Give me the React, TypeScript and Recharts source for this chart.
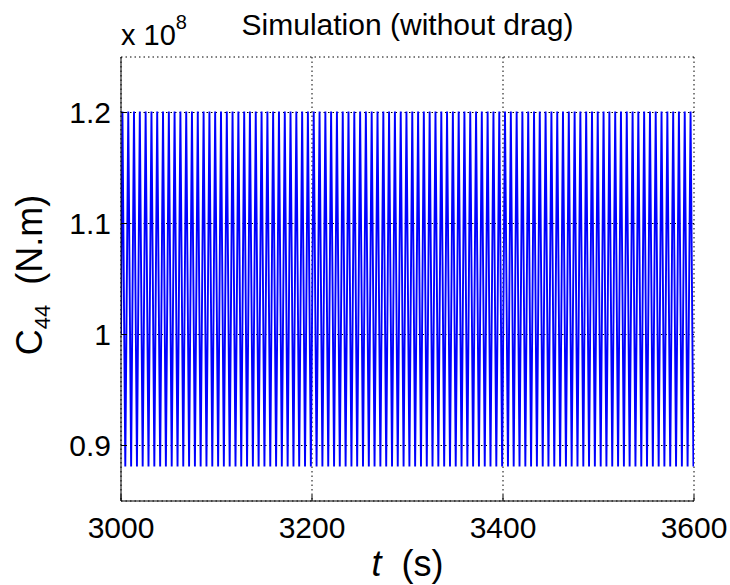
import { CartesianGrid, Line, LineChart, XAxis, YAxis } from 'recharts';

// ----------------------------------------------------------------------
// sample times (s): turning points of the C44 oscillation
const time = [
  3000,
  3001.5, 3004.5, 3007.6, 3010.6, 3013.6, 3016.7, 3019.7, 3022.7, 3025.8, 3028.8, 3031.9, 3034.9, 3037.9, 3041.0, 3044.0, 3047.0, 3050.1, 3053.1, 3056.1, 3059.2,
  3062.2, 3065.2, 3068.3, 3071.3, 3074.3, 3077.4, 3080.4, 3083.4, 3086.5, 3089.5, 3092.6, 3095.6, 3098.6, 3101.7, 3104.7, 3107.7, 3110.8, 3113.8, 3116.8, 3119.9,
  3122.9, 3125.9, 3129.0, 3132.0, 3135.0, 3138.1, 3141.1, 3144.1, 3147.2, 3150.2, 3153.3, 3156.3, 3159.3, 3162.4, 3165.4, 3168.4, 3171.5, 3174.5, 3177.5, 3180.6,
  3183.6, 3186.6, 3189.7, 3192.7, 3195.7, 3198.8, 3201.8, 3204.8, 3207.9, 3210.9, 3214.0, 3217.0, 3220.0, 3223.1, 3226.1, 3229.1, 3232.2, 3235.2, 3238.2, 3241.3,
  3244.3, 3247.3, 3250.4, 3253.4, 3256.4, 3259.5, 3262.5, 3265.5, 3268.6, 3271.6, 3274.7, 3277.7, 3280.7, 3283.8, 3286.8, 3289.8, 3292.9, 3295.9, 3298.9, 3302.0,
  3305.0, 3308.0, 3311.1, 3314.1, 3317.1, 3320.2, 3323.2, 3326.2, 3329.3, 3332.3, 3335.4, 3338.4, 3341.4, 3344.5, 3347.5, 3350.5, 3353.6, 3356.6, 3359.6, 3362.7,
  3365.7, 3368.7, 3371.8, 3374.8, 3377.8, 3380.9, 3383.9, 3386.9, 3390.0, 3393.0, 3396.1, 3399.1, 3402.1, 3405.2, 3408.2, 3411.2, 3414.3, 3417.3, 3420.3, 3423.4,
  3426.4, 3429.4, 3432.5, 3435.5, 3438.5, 3441.6, 3444.6, 3447.6, 3450.7, 3453.7, 3456.8, 3459.8, 3462.8, 3465.9, 3468.9, 3471.9, 3475.0, 3478.0, 3481.0, 3484.1,
  3487.1, 3490.1, 3493.2, 3496.2, 3499.2, 3502.3, 3505.3, 3508.3, 3511.4, 3514.4, 3517.5, 3520.5, 3523.5, 3526.6, 3529.6, 3532.6, 3535.7, 3538.7, 3541.7, 3544.8,
  3547.8, 3550.8, 3553.9, 3556.9, 3559.9, 3563.0, 3566.0, 3569.0, 3572.1, 3575.1, 3578.2, 3581.2, 3584.2, 3587.3, 3590.3, 3593.3, 3596.4, 3599.4,
  3600,
];

// C44 (x 1e8 N.m) at those times
const c44 = [
  1.0,
  1.201, 0.881, 1.201, 0.881, 1.201, 0.881, 1.201, 0.881, 1.201, 0.881, 1.201, 0.881, 1.201, 0.881, 1.201, 0.881, 1.201, 0.881, 1.201, 0.881,
  1.201, 0.881, 1.201, 0.881, 1.201, 0.881, 1.201, 0.881, 1.201, 0.881, 1.201, 0.881, 1.201, 0.881, 1.201, 0.881, 1.201, 0.881, 1.201, 0.881,
  1.201, 0.881, 1.201, 0.881, 1.201, 0.881, 1.201, 0.881, 1.201, 0.881, 1.201, 0.881, 1.201, 0.881, 1.201, 0.881, 1.201, 0.881, 1.201, 0.881,
  1.201, 0.881, 1.201, 0.881, 1.201, 0.881, 1.201, 0.881, 1.201, 0.881, 1.201, 0.881, 1.201, 0.881, 1.201, 0.881, 1.201, 0.881, 1.201, 0.881,
  1.201, 0.881, 1.201, 0.881, 1.201, 0.881, 1.201, 0.881, 1.201, 0.881, 1.201, 0.881, 1.201, 0.881, 1.201, 0.881, 1.201, 0.881, 1.201, 0.881,
  1.201, 0.881, 1.201, 0.881, 1.201, 0.881, 1.201, 0.881, 1.201, 0.881, 1.201, 0.881, 1.201, 0.881, 1.201, 0.881, 1.201, 0.881, 1.201, 0.881,
  1.201, 0.881, 1.201, 0.881, 1.201, 0.881, 1.201, 0.881, 1.201, 0.881, 1.201, 0.881, 1.201, 0.881, 1.201, 0.881, 1.201, 0.881, 1.201, 0.881,
  1.201, 0.881, 1.201, 0.881, 1.201, 0.881, 1.201, 0.881, 1.201, 0.881, 1.201, 0.881, 1.201, 0.881, 1.201, 0.881, 1.201, 0.881, 1.201, 0.881,
  1.201, 0.881, 1.201, 0.881, 1.201, 0.881, 1.201, 0.881, 1.201, 0.881, 1.201, 0.881, 1.201, 0.881, 1.201, 0.881, 1.201, 0.881, 1.201, 0.881,
  1.201, 0.881, 1.201, 0.881, 1.201, 0.881, 1.201, 0.881, 1.201, 0.881, 1.201, 0.881, 1.201, 0.881, 1.201, 0.881, 1.201, 0.881,
  0.91,
];

const xTicks = [3000, 3200, 3400, 3600];
const yTicks = [0.9, 1, 1.1, 1.2];

const data = time.map((t, i) => ({ t, c44: c44[i] }));

const FONT = '"Liberation Sans", Arial, Helvetica, sans-serif';
const GAP = '\u00a0\u00a0';

// ----------------------------------------------------------------------

const XTick = ({ x, y, payload }: any) => (
  <text x={x} y={y} dy={21.5} textAnchor='middle' fontSize={30} fontFamily={FONT} fill='#000'>
    {payload.value}
  </text>
);

const YTick = ({ x, y, payload }: any) => (
  <text x={x} y={y} dy={10.5} textAnchor='end' fontSize={30} fontFamily={FONT} fill='#000'>
    {payload.value}
  </text>
);

export default function App() {
  return (
    <div style={{ position: 'absolute', left: 0, top: 0, width: 730, height: 585, background: '#fff' }}>
      <LineChart width={730} height={585} data={data} margin={{ top: 57, right: 36, bottom: 24, left: 0 }}>
        <CartesianGrid stroke='#000' strokeDasharray='1.5 3' />
        <XAxis
          dataKey='t'
          type='number'
          domain={[3000, 3600]}
          ticks={xTicks}
          height={60}
          tickSize={-6}
          tickMargin={21}
          tick={<XTick />}
          stroke='#000'
          allowDataOverflow
        />
        <XAxis
          xAxisId='top'
          dataKey='t'
          orientation='top'
          type='number'
          domain={[3000, 3600]}
          ticks={xTicks}
          height={0}
          tickSize={-6}
          tick={false}
          stroke='#000'
        />
        <YAxis
          type='number'
          domain={[0.85, 1.25]}
          ticks={yTicks}
          width={121}
          tickSize={-6}
          tickMargin={16}
          tick={<YTick />}
          stroke='#000'
          allowDataOverflow
        />
        <YAxis
          yAxisId='right'
          dataKey='c44'
          orientation='right'
          type='number'
          domain={[0.85, 1.25]}
          ticks={yTicks}
          width={0}
          tickSize={-6}
          tick={false}
          stroke='#000'
        />
        <Line
          dataKey='c44'
          type='linear'
          stroke='#0000ff'
          strokeWidth={1.9}
          dot={false}
          isAnimationActive={false}
        />

        {/* title and exponent */}
        <text x={407.5} y={35} textAnchor='middle' fontSize={30} fontFamily={FONT} fill='#000'>
          Simulation (without drag)
        </text>
        <text x={121} y={45} fontSize={29} fontFamily={FONT} fill='#000'>
          x 10
          <tspan fontSize={20} dy={-16}>8</tspan>
        </text>

        {/* axis labels */}
        <text x={407.5} y={576} textAnchor='middle' fontSize={36} fontFamily={FONT} fill='#000'>
          <tspan fontStyle='italic'>t</tspan>
          <tspan>{GAP + '(s)'}</tspan>
        </text>
        <text
          x={42}
          y={275}
          transform='rotate(-90, 42, 275)'
          textAnchor='middle'
          fontSize={36}
          fontFamily={FONT}
          fill='#000'
        >
          C
          <tspan fontSize={22} dy={8}>44</tspan>
          <tspan dy={-8}>{GAP + '(N.m)'}</tspan>
        </text>
      </LineChart>
    </div>
  );
}
